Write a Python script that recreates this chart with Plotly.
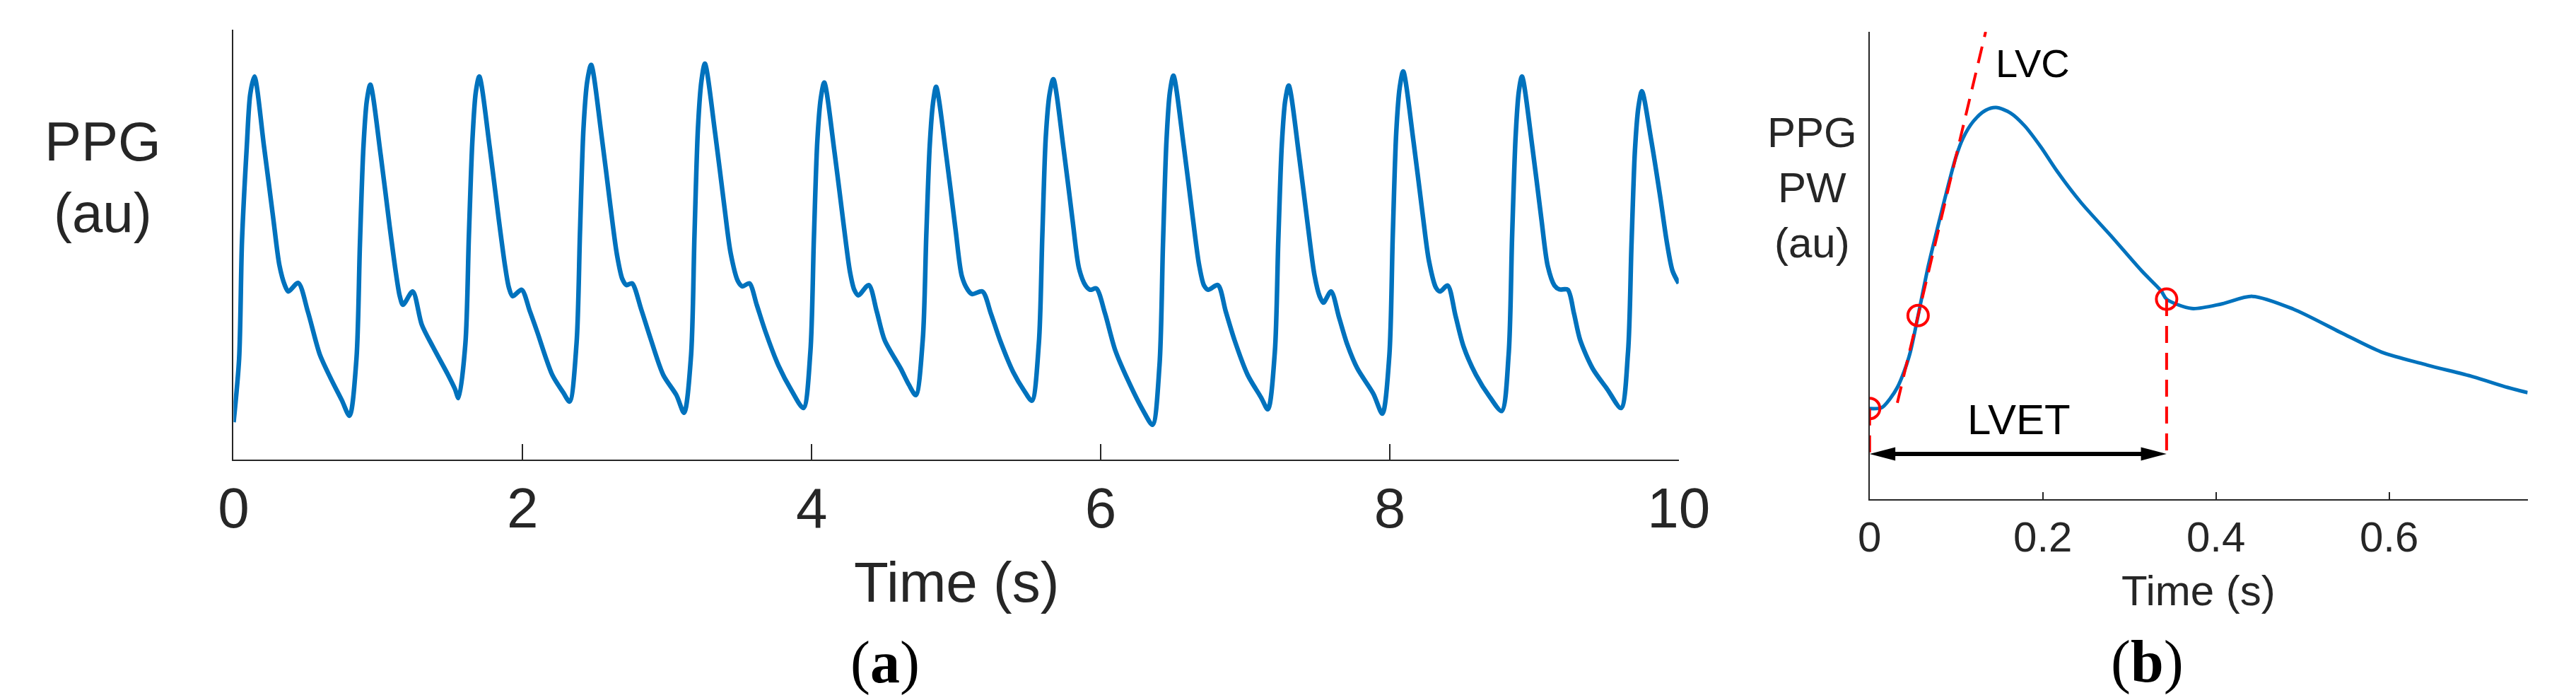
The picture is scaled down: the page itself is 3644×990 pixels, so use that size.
import plotly.graph_objects as go

# Panel (a): 10 s of PPG (au, 0 = axis bottom, 1 = axis top)
ppg_t = [
    0.000, 0.038, 0.058, 0.091, 0.115, 0.144, 0.211, 0.274, 0.317, 0.355, 0.379, 0.447,
    0.514, 0.596, 0.672, 0.749, 0.802,
    0.850, 0.874, 0.898, 0.922, 0.946, 1.018, 1.080, 1.124, 1.150, 1.172, 1.239,
    1.302, 1.378, 1.484, 1.532, 1.556,
    1.604, 1.628, 1.652, 1.676, 1.700, 1.772, 1.834, 1.878, 1.905, 1.931, 1.993,
    2.050, 2.099, 2.205, 2.281, 2.325,
    2.373, 2.397, 2.421, 2.447, 2.474, 2.546, 2.608, 2.652, 2.690, 2.719, 2.757,
    2.820, 2.882, 2.973, 3.064, 3.117,
    3.165, 3.189, 3.213, 3.237, 3.261, 3.333, 3.395, 3.439, 3.490, 3.521, 3.569,
    3.620, 3.679, 3.770, 3.862, 3.943,
    3.991, 4.015, 4.039, 4.063, 4.087, 4.159, 4.221, 4.265, 4.295, 4.323, 4.395,
    4.450, 4.505, 4.616, 4.673, 4.721,
    4.769, 4.793, 4.817, 4.840, 4.861, 4.933, 4.995, 5.039, 5.080, 5.110, 5.182,
    5.240, 5.303, 5.394, 5.471, 5.524,
    5.572, 5.596, 5.620, 5.646, 5.672, 5.744, 5.806, 5.850, 5.895, 5.927, 5.970,
    6.030, 6.100, 6.191, 6.297, 6.359,
    6.407, 6.431, 6.455, 6.479, 6.503, 6.575, 6.637, 6.681, 6.715, 6.744, 6.811,
    6.865, 6.926, 7.017, 7.109, 7.157,
    7.205, 7.229, 7.253, 7.277, 7.301, 7.373, 7.435, 7.479, 7.515, 7.541, 7.594,
    7.650, 7.704, 7.776, 7.887, 7.949,
    7.997, 8.021, 8.045, 8.069, 8.093, 8.165, 8.227, 8.271, 8.320, 8.348, 8.401,
    8.455, 8.511, 8.597, 8.694, 8.775,
    8.823, 8.847, 8.871, 8.893, 8.915, 8.987, 9.049, 9.093, 9.140, 9.174, 9.232,
    9.275, 9.318, 9.404, 9.505, 9.601,
    9.649, 9.673, 9.697, 9.721, 9.745, 9.807, 9.870, 9.918, 9.957, 10.000,
]
ppg_v = [
    0.087, 0.234, 0.508, 0.727, 0.850, 0.891, 0.727, 0.562, 0.452, 0.405, 0.391, 0.411,
    0.344, 0.245, 0.189, 0.138, 0.102,
    0.234, 0.500, 0.725, 0.835, 0.872, 0.708, 0.542, 0.432, 0.380, 0.360, 0.391,
    0.314, 0.263, 0.197, 0.164, 0.143,
    0.270, 0.520, 0.740, 0.855, 0.891, 0.727, 0.561, 0.451, 0.400, 0.380, 0.395,
    0.345, 0.299, 0.197, 0.156, 0.135,
    0.270, 0.530, 0.770, 0.880, 0.918, 0.754, 0.588, 0.478, 0.420, 0.406, 0.410,
    0.350, 0.285, 0.197, 0.150, 0.109,
    0.240, 0.520, 0.770, 0.880, 0.921, 0.757, 0.591, 0.481, 0.415, 0.403, 0.410,
    0.360, 0.299, 0.219, 0.160, 0.120,
    0.250, 0.510, 0.740, 0.840, 0.877, 0.713, 0.547, 0.437, 0.395, 0.382, 0.406,
    0.345, 0.278, 0.212, 0.174, 0.150,
    0.280, 0.520, 0.730, 0.830, 0.867, 0.703, 0.537, 0.427, 0.395, 0.385, 0.391,
    0.340, 0.278, 0.204, 0.160, 0.137,
    0.270, 0.520, 0.750, 0.850, 0.885, 0.721, 0.555, 0.445, 0.405, 0.395, 0.398,
    0.340, 0.255, 0.183, 0.112, 0.081,
    0.220, 0.500, 0.740, 0.855, 0.893, 0.729, 0.563, 0.453, 0.405, 0.395, 0.406,
    0.345, 0.278, 0.197, 0.145, 0.117,
    0.250, 0.510, 0.730, 0.835, 0.870, 0.706, 0.540, 0.430, 0.380, 0.365, 0.391,
    0.330, 0.270, 0.212, 0.153, 0.107,
    0.240, 0.520, 0.760, 0.865, 0.903, 0.739, 0.573, 0.463, 0.400, 0.391, 0.405,
    0.335, 0.263, 0.197, 0.145, 0.113,
    0.245, 0.520, 0.750, 0.855, 0.891, 0.727, 0.561, 0.451, 0.405, 0.396, 0.395,
    0.340, 0.278, 0.212, 0.164, 0.120,
    0.250, 0.500, 0.720, 0.820, 0.857, 0.748, 0.615, 0.505, 0.439, 0.410,
]

# Panel (b): one pulse wave
pw_t = [
    0.000, 0.014, 0.024, 0.032, 0.040, 0.047, 0.056, 0.068, 0.080, 0.091, 0.100,
    0.108, 0.120, 0.134, 0.146, 0.163, 0.179, 0.198, 0.216, 0.244, 0.279, 0.314,
    0.337, 0.343, 0.372, 0.407, 0.442, 0.489, 0.547, 0.591, 0.644, 0.697, 0.737, 0.760,
]
pw_v = [
    0.194, 0.196, 0.216, 0.239, 0.274, 0.315, 0.393, 0.501, 0.592, 0.673, 0.734,
    0.773, 0.809, 0.832, 0.838, 0.826, 0.799, 0.753, 0.703, 0.635, 0.563, 0.489,
    0.445, 0.428, 0.408, 0.418, 0.434, 0.407, 0.354, 0.315, 0.287, 0.262, 0.239, 0.228,
]

# fiducial points (foot, max slope, end of ejection) and the LVC tangent
fid_t = [0.000, 0.056, 0.343]
fid_v = [0.194, 0.393, 0.428]
lvc_t = [0.032, 0.134]
lvc_v = [0.206, 1.000]
arrow_v = 0.097

W, H = 3644, 990
dom_a = ([306 / W, 2388 / W], [1 - 642 / H, 1 - 34 / H])
dom_b = ([2663 / W, 3611 / W], [1 - 698 / H, 1 - 37 / H])
range_a = [0, 10]
range_b = [0, 0.76]

blue = "#0072BD"
grey = "#262626"
red = "#FF0000"
sans = "Liberation Sans, Arial, sans-serif"
serif = "Liberation Serif, Times New Roman, serif"

fig = go.Figure(layout=go.Layout(width=W, height=H))

fig.add_trace(
    go.Scatter(
        x=ppg_t, y=ppg_v, mode="lines",
        line={"color": blue, "width": 6.5, "shape": "spline", "smoothing": 0.8},
        xaxis="x", yaxis="y", showlegend=False,
    )
)
fig.add_trace(
    go.Scatter(
        x=pw_t, y=pw_v, mode="lines",
        line={"color": blue, "width": 5, "shape": "spline", "smoothing": 0.8},
        xaxis="x2", yaxis="y2", showlegend=False,
    )
)

# red dashed tangent and the two drop lines
dash = "24px,14px"
fig.add_trace(
    go.Scatter(
        x=lvc_t, y=lvc_v, mode="lines", line={"color": red, "width": 4, "dash": dash},
        xaxis="x2", yaxis="y2", showlegend=False,
    )
)
for i in (0, 2):
    fig.add_trace(
        go.Scatter(
            x=[fid_t[i], fid_t[i]], y=[fid_v[i], arrow_v], mode="lines",
            line={"color": red, "width": 4, "dash": dash},
            xaxis="x2", yaxis="y2", showlegend=False,
        )
    )
fig.add_trace(
    go.Scatter(
        x=fid_t, y=fid_v, mode="markers",
        marker={"symbol": "circle-open", "size": 29, "color": red, "line": {"width": 4, "color": red}},
        xaxis="x2", yaxis="y2", showlegend=False,
    )
)

# LVET double arrow: shaft plus two filled heads sized in pixels
px_x = (range_b[1] - range_b[0]) / (3611 - 2663)
px_y = 1.0 / (698 - 37)
head_len = 37 * px_x
head_half = 9.5 * px_y
x0, x1 = fid_t[0], fid_t[2]
shapes = [
    dict(type="line", xref="x2", yref="y2", x0=x0 + head_len * 0.8, x1=x1 - head_len * 0.8,
         y0=arrow_v, y1=arrow_v, line={"color": "black", "width": 6}),
    dict(type="path", xref="x2", yref="y2", fillcolor="black", line={"width": 0},
         path=f"M {x0},{arrow_v} L {x0 + head_len},{arrow_v + head_half} "
              f"L {x0 + head_len},{arrow_v - head_half} Z"),
    dict(type="path", xref="x2", yref="y2", fillcolor="black", line={"width": 0},
         path=f"M {x1},{arrow_v} L {x1 - head_len},{arrow_v + head_half} "
              f"L {x1 - head_len},{arrow_v - head_half} Z"),
]
fig.update_layout(shapes=shapes)

axis_common = dict(
    showline=True, linecolor=grey, linewidth=2, showgrid=False, zeroline=False,
    ticks="inside", tickcolor=grey, tickwidth=2,
)
fig.update_layout(
    xaxis=dict(domain=dom_a[0], anchor="y", range=range_a, tickvals=[0, 2, 4, 6, 8, 10],
               ticklen=22, ticklabelstandoff=-2,
               tickfont={"family": sans, "size": 80, "color": grey}, **axis_common),
    yaxis=dict(domain=dom_a[1], anchor="x", range=[0, 1], showline=True, linecolor=grey,
               linewidth=2, showgrid=False, zeroline=False, showticklabels=False, ticks=""),
    xaxis2=dict(domain=dom_b[0], anchor="y2", range=range_b, tickvals=[0, 0.2, 0.4, 0.6],
                ticklen=10, ticklabelstandoff=0,
                tickfont={"family": sans, "size": 60, "color": grey}, **axis_common),
    yaxis2=dict(domain=dom_b[1], anchor="x2", range=[0, 1], showline=True, linecolor=grey,
                linewidth=2, showgrid=False, zeroline=False, showticklabels=False, ticks=""),
    margin=dict(l=0, r=0, t=0, b=0),
    plot_bgcolor="white",
    paper_bgcolor="white",
)

def note(x_px, y_px, text, size, color=grey, family=sans):
    fig.add_annotation(
        x=x_px / W, y=1 - y_px / H, xref="paper", yref="paper", text=text,
        showarrow=False, xanchor="center", yanchor="middle",
        font={"family": family, "size": size, "color": color},
    )

note(1347, 815, "Time (s)", 80)
note(3137, 827, "Time (s)", 60)
note(118, 242, "PPG<br>(au)", 78)
note(2580, 257, "PPG<br>PW<br>(au)", 60)
note(2898, 82, "LVC", 56, color="black")
note(2878, 585, "LVET", 60, color="black")
note(1245, 929, "(<b>a</b>)", 84, color="black", family=serif)
note(3063, 928, "(<b>b</b>)", 84, color="black", family=serif)

fig.write_html("out.html")
